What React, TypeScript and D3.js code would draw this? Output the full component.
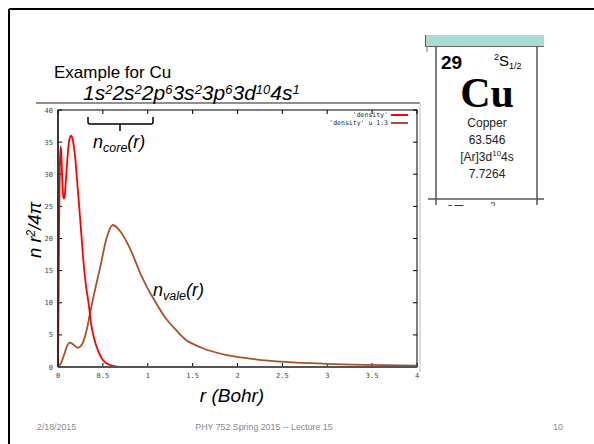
import React from 'react';
import * as d3 from 'd3';

// core density (red) and valence density (brown)
const coreR = [0, 0.005, 0.012, 0.02, 0.028, 0.036, 0.045, 0.055, 0.065, 0.075, 0.085, 0.1, 0.115, 0.13, 0.145, 0.16, 0.175, 0.19, 0.21, 0.23, 0.25, 0.28, 0.31, 0.34, 0.37, 0.4, 0.45, 0.5, 0.55, 0.6, 0.65, 0.7, 1, 2, 3, 4];
const coreN = [0, 8, 22, 31, 34.3, 33.5, 30, 27, 26.2, 26.6, 28.5, 31.5, 34.2, 35.6, 36, 35.6, 34.5, 32.8, 29.5, 26, 22.5, 17, 12.8, 10, 6.6, 4.6, 2.4, 1.1, 0.5, 0.2, 0.07, 0, 0, 0, 0, 0];
const valeR = [0, 0.03, 0.07, 0.1, 0.13, 0.17, 0.22, 0.27, 0.32, 0.36, 0.42, 0.47, 0.54, 0.61, 0.7, 0.8, 0.92, 1.0, 1.07, 1.2, 1.3, 1.41, 1.6, 1.9, 2.2, 2.53, 3.0, 3.46, 4.0];
const valeN = [0, 0.5, 2.0, 3.2, 3.8, 3.5, 3.0, 3.6, 5.8, 8.6, 12.5, 15.5, 20, 22.1, 21, 18.5, 14.5, 12.2, 10.5, 7.6, 6.0, 4.4, 3.0, 1.8, 1.2, 0.8, 0.5, 0.33, 0.2];

const xTicks = [0, 0.5, 1, 1.5, 2, 2.5, 3, 3.5, 4];
const yTicks = [0, 5, 10, 15, 20, 25, 30, 35, 40];
const legendLabels = ["'density'", "'density' u 1:3"];
const seriesColors = ['#ff0000', '#a5522d'];

const tileLines = ['Copper', '63.546', '[Ar]3d', '7.7264'];

const App = () => {
    const width = 594;
    const height = 444;
    const plot = { left: 58, right: 417, top: 110, bottom: 367 };

    const x = d3.scaleLinear().domain([0, 4]).range([plot.left, plot.right]);
    const y = d3.scaleLinear().domain([0, 40]).range([plot.bottom, plot.top]);

    const line = d3.line<[number, number]>()
        .x(d => x(d[0]))
        .y(d => y(d[1]))
        .curve(d3.curveMonotoneX);

    const corePts = coreR.map((r, i) => [r, coreN[i]] as [number, number]);
    const valePts = valeR.map((r, i) => [r, valeN[i]] as [number, number]);

    const sans = 'Arial, "Liberation Sans", sans-serif';
    const mono = '"DejaVu Sans Mono", monospace';
    const sup = (s: string) => <tspan dy={-6} fontSize={13}>{s}</tspan>;

    return (
        <svg
            width={width}
            height={height}
            style={{ position: 'absolute', left: 0, top: 0, background: '#fff' }}
        >
            <defs>
                <clipPath id="tileclip"><rect x={420} y={0} width={140} height={206} /></clipPath>
            </defs>
            {/* slide frame */}
            <line x1={9} y1={9} x2={594} y2={9} stroke="#000" strokeWidth={2} />
            <line x1={9} y1={9} x2={9} y2={444} stroke="#000" strokeWidth={2} />

            <text x={54} y={78} fontFamily={sans} fontSize={17}>Example for Cu</text>

            <text x={83} y={100} fontFamily={sans} fontSize={21} fontStyle="italic">
                1s{sup('2')}
                <tspan dy={6}>2s</tspan>{sup('2')}
                <tspan dy={6}>2p</tspan>{sup('6')}
                <tspan dy={6}>3s</tspan>{sup('2')}
                <tspan dy={6}>3p</tspan>{sup('6')}
                <tspan dy={6}>3d</tspan>{sup('10')}
                <tspan dy={6}>4s</tspan>{sup('1')}
            </text>

            {/* chart image border */}
            <line x1={36} y1={103} x2={420} y2={103} stroke="#222" strokeWidth={1.2} />
            <line x1={420} y1={103} x2={420} y2={372} stroke="#bbb" strokeWidth={1} />

            {/* plot frame */}
            <rect x={plot.left} y={plot.top} width={plot.right - plot.left} height={plot.bottom - plot.top}
                fill="none" stroke="#000" strokeWidth={1} />
            {xTicks.map(t => (
                <g key={'xt' + t}>
                    <line x1={x(t)} x2={x(t)} y1={plot.bottom} y2={plot.bottom - 4} stroke="#000" />
                    <line x1={x(t)} x2={x(t)} y1={plot.top} y2={plot.top + 4} stroke="#000" />
                    <text x={x(t)} y={plot.bottom + 11} textAnchor="middle" fontFamily={mono} fontSize={7} fill="#444">{t}</text>
                </g>
            ))}
            {yTicks.map(t => (
                <g key={'yt' + t}>
                    <line x1={plot.left} x2={plot.left + 4} y1={y(t)} y2={y(t)} stroke="#000" />
                    <line x1={plot.right} x2={plot.right - 4} y1={y(t)} y2={y(t)} stroke="#000" />
                    <text x={plot.left - 5} y={y(t) + 2.5} textAnchor="end" fontFamily={mono} fontSize={7} fill="#444">{t}</text>
                </g>
            ))}

            <path d={line(valePts) ?? ''} fill="none" stroke={seriesColors[1]} strokeWidth={1.8} />
            <path d={line(corePts) ?? ''} fill="none" stroke={seriesColors[0]} strokeWidth={1.8} />
            <line x1={plot.left} x2={plot.right} y1={plot.bottom} y2={plot.bottom} stroke="#555" strokeWidth={2} />
            <line x1={plot.left} x2={plot.left} y1={plot.top} y2={plot.bottom} stroke="#222" strokeWidth={1.5} />

            {/* legend */}
            {legendLabels.map((l, i) => (
                <g key={l}>
                    <text x={388} y={117 + i * 8} textAnchor="end" fontFamily={mono} fontSize={6.5} fill="#222">{l}</text>
                    <line x1={391} x2={408} y1={115 + i * 8} y2={115 + i * 8} stroke={seriesColors[i]} strokeWidth={2} />
                </g>
            ))}

            {/* brace */}
            <path d="M88,117 L88,122 Q88,124 90,124 L151,124 Q153,124 153,122 L153,117 M120,124 L120,131" fill="none" stroke="#000" strokeWidth={1.5} />

            <text x={93} y={148} fontFamily={sans} fontSize={18} fontStyle="italic">
                n<tspan dy={4} fontSize={12.5}>core</tspan><tspan dy={-4}>(r)</tspan>
            </text>
            <text x={153} y={296} fontFamily={sans} fontSize={18} fontStyle="italic">
                n<tspan dy={4} fontSize={12.5}>vale</tspan><tspan dy={-4}>(r)</tspan>
            </text>

            <text transform="translate(41,230) rotate(-90)" textAnchor="middle" fontFamily={sans} fontSize={18.5} fontStyle="italic">
                n r<tspan dy={-6} fontSize={12}>2</tspan><tspan dy={6}>/4π</tspan>
            </text>
            <text x={232} y={402} textAnchor="middle" fontFamily={sans} fontSize={19} fontStyle="italic">r (Bohr)</text>

            {/* periodic table tile */}
            <rect x={425} y={35} width={119} height={11} fill="#a6ded4" />
            <line x1={425.5} x2={425.5} y1={35} y2={46} stroke="#555" />
            <line x1={425} x2={544} y1={46.5} y2={46.5} stroke="#666" />
            <line x1={427} x2={427} y1={46} y2={52} stroke="#777" />
            <line x1={436} x2={436} y1={46} y2={205} stroke="#555" strokeWidth={1.5} />
            <line x1={537} x2={537} y1={46} y2={205} stroke="#555" strokeWidth={1.5} />
            <line x1={428} x2={544} y1={199} y2={199} stroke="#555" strokeWidth={1.5} />
            <g clipPath="url(#tileclip)">
                <text x={443} y={218} fontFamily={sans} fontSize={19} fontWeight="bold" fill="#333">47</text>
                <text x={490} y={210} fontFamily={sans} fontSize={10} fill="#555">2</text>
            </g>
            <text x={441} y={69} fontFamily={sans} fontSize={19} fontWeight="bold">29</text>
            <text x={494} y={66} fontFamily={sans} fontSize={15}>
                <tspan dy={-6} fontSize={9}>2</tspan><tspan dy={6}>S</tspan><tspan dy={3} fontSize={9}>1/2</tspan>
            </text>
            <text x={487} y={107} textAnchor="middle" fontFamily='"Liberation Serif", "DejaVu Serif", serif' fontSize={42} fontWeight="bold">Cu</text>
            {tileLines.map((l, i) => (
                <text key={l} x={487} y={127 + i * 17} textAnchor="middle" fontFamily={sans} fontSize={12} fill="#222">
                    {l}{i === 2 ? <><tspan dy={-5} fontSize={8}>10</tspan><tspan dy={5}>4s</tspan></> : null}
                </text>
            ))}

            {/* footer */}
            <text x={37} y={430} fontFamily={sans} fontSize={8.8} fill="#888">2/18/2015</text>
            <text x={264} y={430} textAnchor="middle" fontFamily={sans} fontSize={8.8} fill="#888">PHY 752  Spring 2015 -- Lecture 15</text>
            <text x={558} y={430} textAnchor="middle" fontFamily={sans} fontSize={8.8} fill="#888">10</text>
        </svg>
    );
};

export default App;
